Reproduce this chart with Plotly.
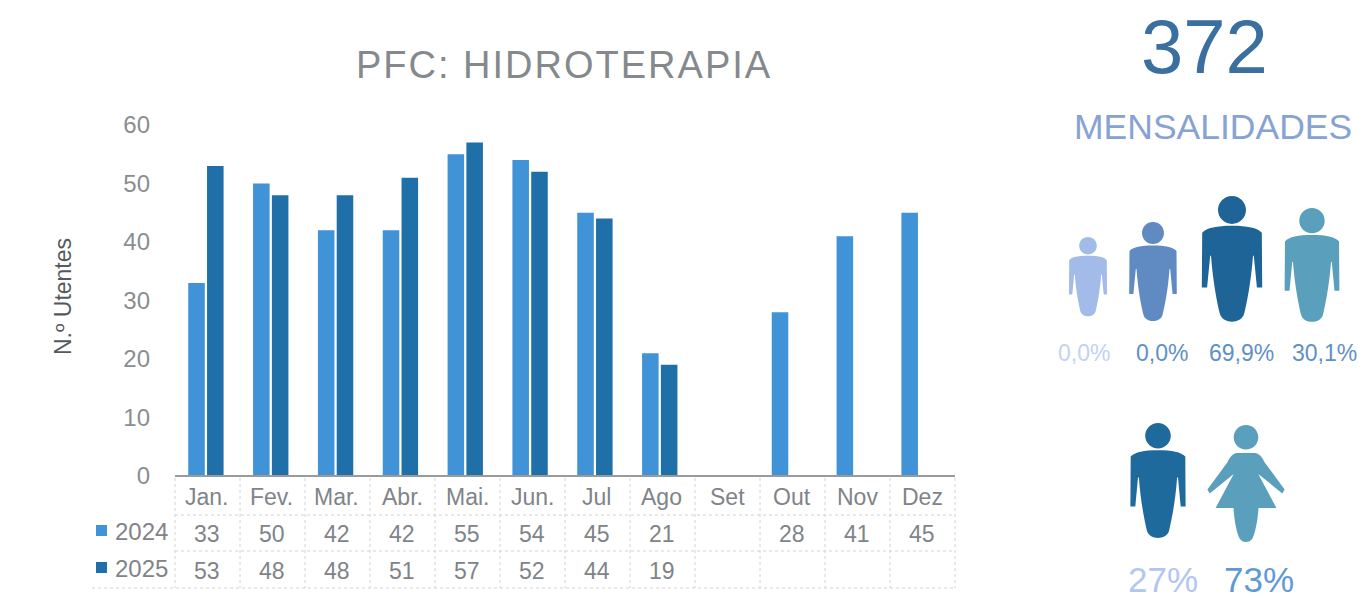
import plotly.graph_objects as go

months = ["Jan.", "Fev.", "Mar.", "Abr.", "Mai.", "Jun.", "Jul", "Ago", "Set", "Out", "Nov", "Dez"]
values_2024 = [33, 50, 42, 42, 55, 54, 45, 21, None, 28, 41, 45]
values_2025 = [53, 48, 48, 51, 57, 52, 44, 19, None, None, None, None]
y_ticks = [0, 10, 20, 30, 40, 50, 60]
title = "PFC: HIDROTERAPIA"
total_value = "372"
total_label = "MENSALIDADES"
age_labels = ["0,0%", "0,0%", "69,9%", "30,1%"]
gender_labels = ["27%", "73%"]

W, H = 1366, 599
FONT = "Liberation Sans"
C24, C25 = "#3f93d6", "#1f6fa8"
GREY = "#808488"
K = 0.5523


def circle(cx, cy, r):
    c = K * r
    return (f"M{cx - r:.1f},{cy:.1f} C{cx - r:.1f},{cy - c:.1f} {cx - c:.1f},{cy - r:.1f} {cx:.1f},{cy - r:.1f} "
            f"C{cx + c:.1f},{cy - r:.1f} {cx + r:.1f},{cy - c:.1f} {cx + r:.1f},{cy:.1f} "
            f"C{cx + r:.1f},{cy + c:.1f} {cx + c:.1f},{cy + r:.1f} {cx:.1f},{cy + r:.1f} "
            f"C{cx - c:.1f},{cy + r:.1f} {cx - r:.1f},{cy + c:.1f} {cx - r:.1f},{cy:.1f} Z")


def man(cx, top, h):
    def p(u, v):
        return f"{cx + u * h:.1f},{top + v * h:.1f}"
    r = 0.11 * h
    body = (f"M{p(0, .235)} C{p(.12, .235)} {p(.2, .25)} {p(.235, .29)} L{p(.238, .72)} "
            f"L{p(.196, .72)} L{p(.172, .47)} L{p(.165, .47)} C{p(.15, .68)} {p(.115, .85)} {p(.095, .93)} "
            f"C{p(.07, 1.01)} {p(-.07, 1.01)} {p(-.095, .93)} C{p(-.115, .85)} {p(-.15, .68)} {p(-.165, .47)} "
            f"L{p(-.172, .47)} L{p(-.196, .72)} L{p(-.238, .72)} L{p(-.235, .29)} C{p(-.2, .25)} {p(-.12, .235)} {p(0, .235)} Z")
    return circle(cx, top + r, r) + " " + body


def woman(cx, top, h):
    def p(u, v):
        return f"{cx + u * h:.1f},{top + v * h:.1f}"
    r = 0.105 * h
    body = (f"M{p(-.08, .24)} L{p(.08, .24)} C{p(.12, .25)} {p(.14, .28)} {p(.16, .32)} L{p(.33, .55)} L{p(.31, .585)} "
            f"L{p(.105, .42)} L{p(.26, .71)} L{p(.107, .71)} C{p(.10, .82)} {p(.08, .92)} {p(.055, .97)} "
            f"C{p(.03, 1.01)} {p(-.03, 1.01)} {p(-.055, .97)} C{p(-.08, .92)} {p(-.10, .82)} {p(-.107, .71)} "
            f"L{p(-.26, .71)} L{p(-.105, .42)} L{p(-.31, .585)} L{p(-.33, .55)} L{p(-.16, .32)} C{p(-.14, .28)} {p(-.12, .25)} {p(-.08, .24)} Z")
    return circle(cx, top + r, r) + " " + body


fig = go.Figure()
fig.add_bar(x=months, y=values_2024, name="2024", marker_color=C24, marker_line_width=0)
fig.add_bar(x=months, y=values_2025, name="2025", marker_color=C25, marker_line_width=0)
# carrier trace for the full-page pixel axes used by the decorations
fig.add_scatter(x=[0], y=[0], xaxis="x2", yaxis="y2", mode="markers", marker_opacity=0,
                showlegend=False, hoverinfo="skip")

fig.update_layout(
    width=W, height=H, margin=dict(l=0, r=0, t=0, b=0, autoexpand=False),
    paper_bgcolor="white", plot_bgcolor="rgba(0,0,0,0)", showlegend=False,
    barmode="group", bargap=0.42, bargroupgap=0.12,
    font=dict(family=FONT, color=GREY),
    xaxis=dict(domain=[173.5 / W, 951.5 / W], anchor="y", type="category", categoryorder="array",
               categoryarray=months, showticklabels=False, showline=False, ticks="", fixedrange=True),
    yaxis=dict(domain=[1 - 476 / H, 1 - 125 / H], anchor="free", position=150 / W, range=[0, 60],
               tickvals=y_ticks, showgrid=False, zeroline=False, showline=False, ticks="",
               tickfont=dict(size=24, color="#8a8e92"), fixedrange=True),
    xaxis2=dict(domain=[0, 1], range=[0, W], anchor="y2", visible=False, fixedrange=True),
    yaxis2=dict(domain=[0, 1], range=[H, 0], anchor="x2", visible=False, fixedrange=True),
)


def txt(x, y, s, size, color, xref="x2", **kw):
    fig.add_annotation(x=x, y=y, xref=xref, yref="y2", text=s, showarrow=False,
                       font=dict(size=size, color=color, family=FONT), **kw)


txt(564, 65, title, 38, "#85898d")
txt(63, 297, "N.º Utentes", 23, "#55595d", textangle=-90)

# data table
rows = [(497, months), (534, values_2024), (571, values_2025)]
for y0, row in rows:
    for i, (m, v) in enumerate(zip(months, row)):
        if v is not None:
            txt(m, y0, str(v), 23, GREY, xref="x", xshift=1 + round(i * 0.2))
txt(141, 531, "2024", 24, GREY)
txt(141, 568, "2025", 24, GREY)

fig.add_shape(type="line", xref="x2", yref="y2", x0=175, x1=955, y0=476, y1=476,
              line=dict(color="#9a9a9a", width=2))
line = dict(color="#d2d2d2", width=1, dash="dot")
for y0 in [515, 551, 588]:
    fig.add_shape(type="line", xref="x2", yref="y2", x0=175 if y0 != 588 else 92, x1=955, y0=y0, y1=y0, line=line)
for i in range(13):
    x0 = 175 + 65 * i
    fig.add_shape(type="line", xref="x2", yref="y2", x0=x0, x1=x0, y0=478, y1=588, line=line)
fig.add_shape(type="rect", xref="x2", yref="y2", x0=96, x1=107, y0=525, y1=536, fillcolor=C24, line_width=0)
fig.add_shape(type="rect", xref="x2", yref="y2", x0=96, x1=107, y0=562, y1=573, fillcolor=C25, line_width=0)

# right-hand panel
txt(1204, 46, total_value, 76, "#3a6f9f")
txt(1213, 127, total_label, 35.5, "#87a3d3")

figures = [(man, 1088, 237, 80, "#a3bbe8"), (man, 1153, 222, 100, "#5f8ac2"),
           (man, 1232, 196, 127, "#1f6496"), (man, 1312, 208, 115, "#5a9fbb"),
           (man, 1158, 423, 116, "#1f6a9c"), (woman, 1246, 425, 117, "#5a9fbb")]
for fn, cx, top, h, col in figures:
    fig.add_shape(type="path", xref="x2", yref="y2", path=fn(cx, top, h), fillcolor=col, line_width=0)

age_x = [1084, 1162, 1241, 1324]
age_c = ["#c3d2f2", "#5f90c6", "#5f90c6", "#5f90c6"]
for x0, s, c in zip(age_x, age_labels, age_c):
    txt(x0, 353, s, 23, c)
txt(1163, 579, gender_labels[0], 35, "#b3c6f0")
txt(1259, 579, gender_labels[1], 35, "#5f9ad6")

post = ("document.body.style.margin='0';document.body.style.overflow='hidden';"
        "document.querySelectorAll('.annotation-text').forEach(function(t){"
        "if(t.textContent==='PFC: HIDROTERAPIA'){t.style.letterSpacing='2px';}});")
fig.write_html("out.html", config=dict(displayModeBar=False, responsive=False), post_script=post)
